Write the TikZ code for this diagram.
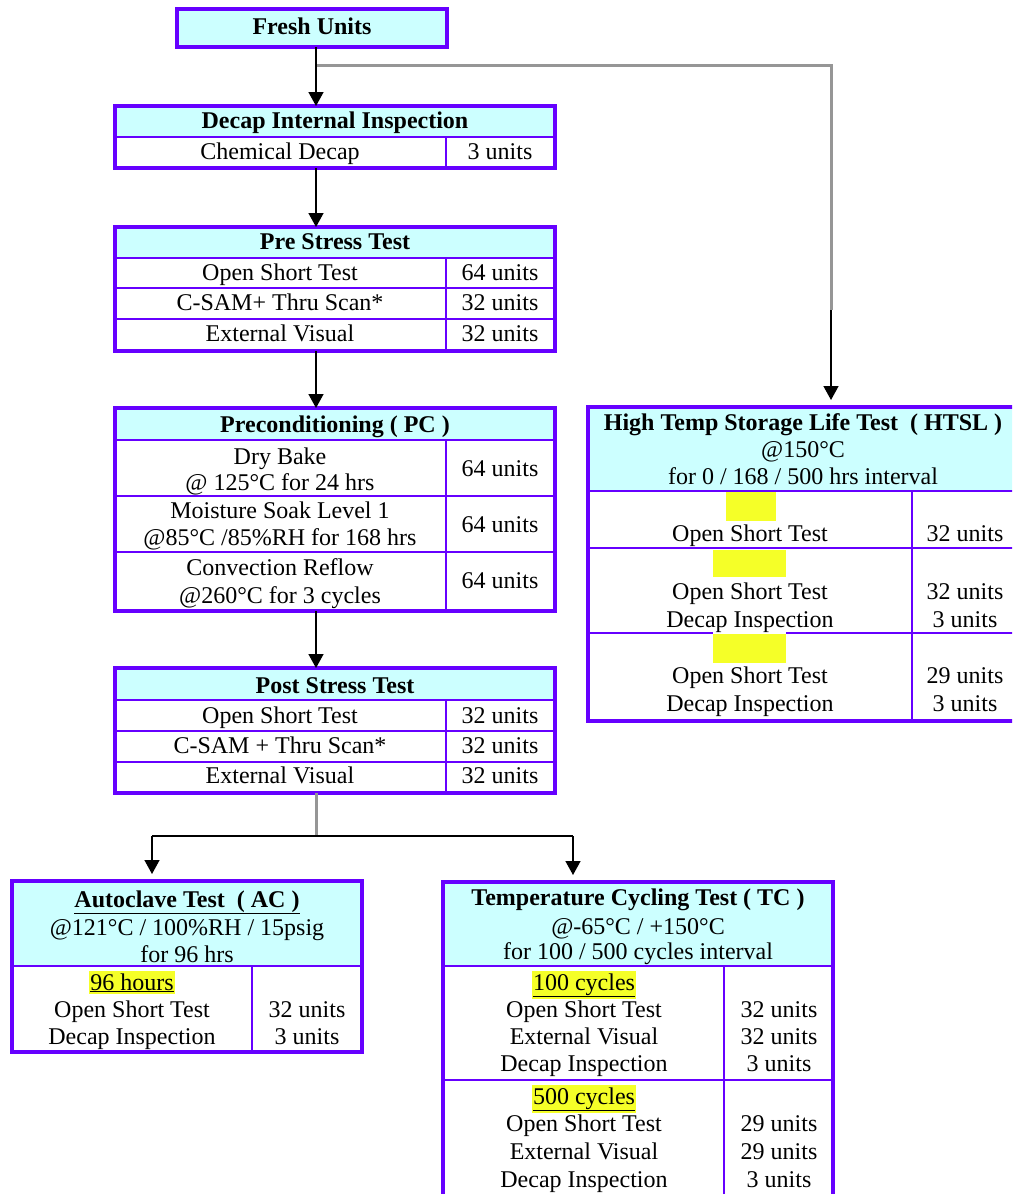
\documentclass[tikz,border=0pt]{standalone}
\usepackage{fontspec}
\setmainfont{Liberation Serif}
\usetikzlibrary{arrows.meta}
\definecolor{boxpurple}{RGB}{102,0,255}
\definecolor{hdrcyan}{RGB}{204,255,255}
\definecolor{hlyellow}{RGB}{245,255,40}
\definecolor{conngray}{RGB}{150,150,150}
\begin{document}
\begin{tikzpicture}[x=1pt,y=-1pt,
  every node/.style={font=\fontsize{24}{27}\selectfont},
  txt/.style={inner sep=0pt, anchor=base, yshift=-7pt},
  ttl/.style={txt, font=\fontsize{24}{27}\selectfont\bfseries},
  outerbox/.style={draw=boxpurple, line width=3.4pt, inner sep=0pt, outer sep=0pt, anchor=north west},
  cellline/.style={draw=boxpurple, line width=1.8pt},
  hdrfill/.style={fill=hdrcyan},
  arr/.style={draw=black, line width=1.5pt, -{Triangle[width=15pt,length=14pt]}},
  link/.style={draw=black, line width=1.5pt},
  glink/.style={draw=conngray, line width=3pt},
  hl/.style={txt, fill=hlyellow, inner xsep=1pt, inner ysep=2pt},
  hlbox/.style={fill=hlyellow, inner sep=0pt, outer sep=0pt, anchor=north west}
]
\useasboundingbox (0,0) rectangle (1012,1194);
\clip (0,0) rectangle (1012,1194);
\fill[white] (0,0) rectangle (1012,1194);

% ---------- Fresh Units ----------
\fill[hdrfill] (177,9) rectangle (447,47);
\node[ttl] (freshT) at (312,27) {Fresh Units};
\node[outerbox, minimum width=270pt, minimum height=38pt] (fresh) at (177,9) {};

% ---------- Decap Internal Inspection ----------
\fill[hdrfill] (115,106) rectangle (555,137);
\draw[cellline] (115,137) -- (555,137) (446,137) -- (446,168);
\node[ttl] (decapT) at (335,121) {Decap Internal Inspection};
\node[txt] (decapA) at (280,152) {Chemical Decap};
\node[txt] (decapB) at (500,152) {3 units};
\node[outerbox, minimum width=440pt, minimum height=62pt] (decap) at (115,106) {};

% ---------- Pre Stress Test ----------
\fill[hdrfill] (115,227) rectangle (555,258);
\draw[cellline] (115,258) -- (555,258) (115,288) -- (555,288) (115,319) -- (555,319) (446,258) -- (446,351);
\node[ttl] (preT) at (335,242) {Pre Stress Test};
\node[txt] (preA1) at (280,273) {Open Short Test};
\node[txt] (preB1) at (500,273) {64 units};
\node[txt] (preA2) at (280,303) {C-SAM+ Thru Scan*};
\node[txt] (preB2) at (500,303) {32 units};
\node[txt] (preA3) at (280,334) {External Visual};
\node[txt] (preB3) at (500,334) {32 units};
\node[outerbox, minimum width=440pt, minimum height=124pt] (pre) at (115,227) {};

% ---------- Preconditioning ----------
\fill[hdrfill] (115,408) rectangle (555,440);
\draw[cellline] (115,440) -- (555,440) (115,496) -- (555,496) (115,552) -- (555,552) (446,440) -- (446,611);
\node[ttl] (pcT) at (335,425) {Preconditioning ( PC )};
\node[txt] (pcA1) at (280,457) {Dry Bake};
\node[txt] (pcA1b) at (280,483) {@ 125°C for 24 hrs};
\node[txt] (pcB1) at (500,469) {64 units};
\node[txt] (pcA2) at (280,511) {Moisture Soak Level 1};
\node[txt] (pcA2b) at (280,538) {@85°C /85\%RH for 168 hrs};
\node[txt] (pcB2) at (500,525) {64 units};
\node[txt] (pcA3) at (280,568) {Convection Reflow};
\node[txt] (pcA3b) at (280,596) {@260°C for 3 cycles};
\node[txt] (pcB3) at (500,581) {64 units};
\node[outerbox, minimum width=440pt, minimum height=203pt] (pc) at (115,408) {};

% ---------- Post Stress Test ----------
\fill[hdrfill] (115,668) rectangle (555,700);
\draw[cellline] (115,700) -- (555,700) (115,731) -- (555,731) (115,762) -- (555,762) (446,700) -- (446,793);
\node[ttl] (postT) at (335,686) {Post Stress Test};
\node[txt] (postA1) at (280,716) {Open Short Test};
\node[txt] (postB1) at (500,716) {32 units};
\node[txt] (postA2) at (280,746) {C-SAM + Thru Scan*};
\node[txt] (postB2) at (500,746) {32 units};
\node[txt] (postA3) at (280,776) {External Visual};
\node[txt] (postB3) at (500,776) {32 units};
\node[outerbox, minimum width=440pt, minimum height=125pt] (post) at (115,668) {};

% ---------- HTSL ----------
\fill[hdrfill] (588,407) rectangle (1018,491);
\node[hlbox, minimum width=50pt, minimum height=30pt] (hy1) at (726,491) {};
\node[hlbox, minimum width=73pt, minimum height=27pt] (hy2) at (713,550) {};
\node[hlbox, minimum width=73pt, minimum height=29pt] (hy3) at (713,634) {};
\draw[cellline] (588,491) -- (1018,491) (588,548) -- (1018,548) (588,633) -- (713,633) (786,633) -- (1018,633) (912,491) -- (912,721);
\node[ttl] (htslT) at (803,423) {High Temp Storage Life Test\ \ ( HTSL )};
\node[txt] (htslT2) at (803,450) {@150°C};
\node[txt] (htslT3) at (803,477) {for 0 / 168 / 500 hrs interval};
\node[txt] (htA1) at (750,534) {Open Short Test};
\node[txt] (htB1) at (965,534) {32 units};
\node[txt] (htA2) at (750,592) {Open Short Test};
\node[txt] (htA2b) at (750,620) {Decap Inspection};
\node[txt] (htB2) at (965,592) {32 units};
\node[txt] (htB2b) at (965,620) {3 units};
\node[txt] (htA3) at (750,676) {Open Short Test};
\node[txt] (htA3b) at (750,704) {Decap Inspection};
\node[txt] (htB3) at (965,676) {29 units};
\node[txt] (htB3b) at (965,704) {3 units};
\node[outerbox, minimum width=430pt, minimum height=314pt] (htsl) at (588,407) {};

% ---------- Autoclave ----------
\fill[hdrfill] (12,881) rectangle (362,966);
\draw[cellline] (12,966) -- (362,966) (252,966) -- (252,1052);
\node[ttl] (acT) at (187,900) {\underline{Autoclave Test\ \ ( AC )}};
\node[txt] (acT2) at (187,928) {@121°C / 100\%RH / 15psig};
\node[txt] (acT3) at (187,955) {for 96 hrs};
\node[hl] (acH) at (132,983) {\underline{96 hours}};
\node[txt] (acA1) at (132,1010) {Open Short Test};
\node[txt] (acA2) at (132,1037) {Decap Inspection};
\node[txt] (acB1) at (307,1010) {32 units};
\node[txt] (acB2) at (307,1037) {3 units};
\node[outerbox, minimum width=350pt, minimum height=171pt] (ac) at (12,881) {};

% ---------- Temperature Cycling ----------
\fill[hdrfill] (443,882) rectangle (833,966);
\draw[cellline] (443,966) -- (833,966) (443,1080) -- (833,1080) (724,966) -- (724,1210);
\node[ttl] (tcT) at (638,898) {Temperature Cycling Test ( TC )};
\node[txt] (tcT2) at (638,927) {@-65°C / +150°C};
\node[txt] (tcT3) at (638,952) {for 100 / 500 cycles interval};
\node[hl] (tcH1) at (584,983) {\underline{100 cycles}};
\node[txt] (tcA1) at (584,1010) {Open Short Test};
\node[txt] (tcA2) at (584,1037) {External Visual};
\node[txt] (tcA3) at (584,1064) {Decap Inspection};
\node[txt] (tcB1) at (779,1010) {32 units};
\node[txt] (tcB2) at (779,1037) {32 units};
\node[txt] (tcB3) at (779,1064) {3 units};
\node[hl] (tcH2) at (584,1097) {\underline{500 cycles}};
\node[txt] (tcA4) at (584,1124) {Open Short Test};
\node[txt] (tcA5) at (584,1152) {External Visual};
\node[txt] (tcA6) at (584,1180) {Decap Inspection};
\node[txt] (tcB4) at (779,1124) {29 units};
\node[txt] (tcB5) at (779,1152) {29 units};
\node[txt] (tcB6) at (779,1180) {3 units};
\node[outerbox, minimum width=390pt, minimum height=330pt] (tc) at (443,882) {};

% ---------- Connectors ----------
\coordinate (spine) at (316,0);
\coordinate (j1) at (316,65);
\coordinate (hbend) at (831,310);
\coordinate (j2) at (316,836);
\coordinate (acdrop) at (152,836);
\coordinate (tcdrop) at (573,836);

\draw[glink] (j1) -| (hbend);
\draw[arr] (spine |- fresh.south) -- (spine |- decap.north);
\draw[arr] (spine |- decap.south) -- (spine |- pre.north);
\draw[arr] (spine |- pre.south) -- (spine |- pc.north);
\draw[arr] (spine |- pc.south) -- (spine |- post.north);
\draw[arr, shorten >=7pt] (hbend) -- (hbend |- htsl.north);
\draw[glink] (spine |- post.south) -- (j2);
\draw[link] (acdrop) -- (tcdrop);
\draw[arr, shorten >=7pt] (acdrop) -- (acdrop |- ac.north);
\draw[arr, shorten >=7pt] (tcdrop) -- (tcdrop |- tc.north);
\end{tikzpicture}
\end{document}
